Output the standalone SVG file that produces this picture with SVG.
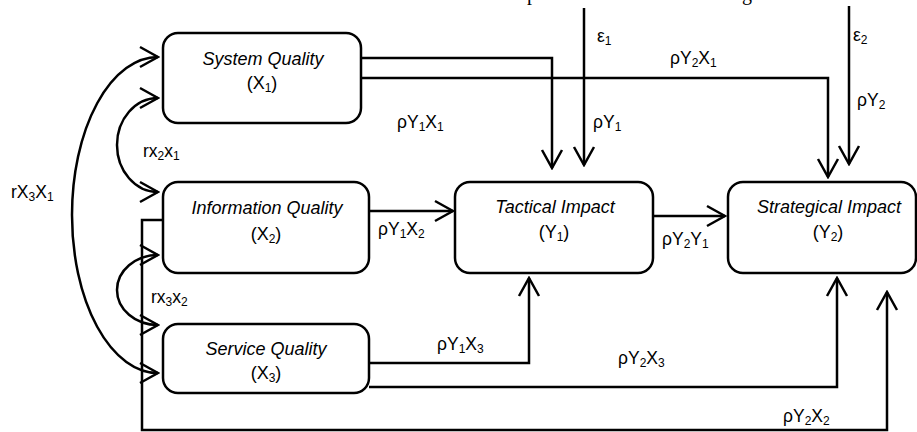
<svg xmlns="http://www.w3.org/2000/svg" width="917" height="432" viewBox="0 0 917 432">
<style>
.box{fill:#fff;stroke:#000;stroke-width:2.5}
.ln{fill:none;stroke:#000;stroke-width:2.5}
.t{font-family:"Liberation Sans",Arial,sans-serif;font-size:18px;font-style:italic;text-anchor:middle;fill:#000}
.n{font-family:"Liberation Sans",Arial,sans-serif;font-size:18px;text-anchor:middle;fill:#000}
.lb{font-family:"Liberation Sans",Arial,sans-serif;font-size:17.5px;fill:#000}
.s{font-size:12px}
.cut{font-family:"Liberation Serif","Times New Roman",serif;font-size:20px;fill:#000}
</style>
<defs>
<marker id="ah" markerUnits="userSpaceOnUse" viewBox="-22 -12 24 24" markerWidth="24" markerHeight="24" refX="0" refY="0" orient="auto">
<path d="M-18,-10 L0,0 L-18,10" fill="none" stroke="#000" stroke-width="2.5"/>
</marker>
<marker id="ahr" markerUnits="userSpaceOnUse" viewBox="-22 -12 24 24" markerWidth="24" markerHeight="24" refX="0" refY="0" orient="0">
<path d="M-18,-10 L0,0 L-18,10" fill="none" stroke="#000" stroke-width="2.5"/>
</marker>
</defs>
<text class="cut" x="527" y="0">p</text>
<text class="cut" x="742" y="0">g</text>
<g id="connectors">
<path class="ln" d="M584,8 V165" marker-end="url(#ah)"/>
<path class="ln" d="M849,6 V164" marker-end="url(#ah)"/>
<path class="ln" d="M361,58 H552 V168" marker-end="url(#ah)"/>
<path class="ln" d="M361,78 H828 V177" marker-end="url(#ah)"/>
<path class="ln" d="M369,211 H453" marker-end="url(#ah)"/>
<path class="ln" d="M653,216 H725" marker-end="url(#ah)"/>
<path class="ln" d="M369,363 H529 V278" marker-end="url(#ah)"/>
<path class="ln" d="M369,387 H837 V278" marker-end="url(#ah)"/>
<path class="ln" d="M163,220 H142 V430 H887 V292" marker-end="url(#ah)"/>
<path class="ln" d="M158,57 A86 158 0 0 0 158,373" marker-start="url(#ahr)" marker-end="url(#ahr)"/>
<path class="ln" d="M158,98 A41 47 0 0 0 158,192" marker-start="url(#ahr)" marker-end="url(#ahr)"/>
<path class="ln" d="M158,255 A41 35 0 0 0 158,325" marker-start="url(#ahr)" marker-end="url(#ahr)"/>
<text class="lb" x="597" y="42">ε<tspan class="s" dy="3">1</tspan></text>
<text class="lb" x="853" y="41">ε<tspan class="s" dy="3">2</tspan></text>
<text class="lb" x="670" y="64">ρY<tspan class="s" dy="3">2</tspan><tspan dy="-3">X</tspan><tspan class="s" dy="3">1</tspan></text>
<text class="lb" x="593" y="128">ρY<tspan class="s" dy="3">1</tspan></text>
<text class="lb" x="857" y="106">ρY<tspan class="s" dy="3">2</tspan></text>
<text class="lb" x="397" y="128">ρY<tspan class="s" dy="3">1</tspan><tspan dy="-3">X</tspan><tspan class="s" dy="3">1</tspan></text>
<text class="lb" x="143" y="157">rx<tspan class="s" dy="3">2</tspan><tspan dy="-3">x</tspan><tspan class="s" dy="3">1</tspan></text>
<text class="lb" x="11" y="198">rX<tspan class="s" dy="3">3</tspan><tspan dy="-3">X</tspan><tspan class="s" dy="3">1</tspan></text>
<text class="lb" x="378" y="235">ρY<tspan class="s" dy="3">1</tspan><tspan dy="-3">X</tspan><tspan class="s" dy="3">2</tspan></text>
<text class="lb" x="662" y="245">ρY<tspan class="s" dy="3">2</tspan><tspan dy="-3">Y</tspan><tspan class="s" dy="3">1</tspan></text>
<text class="lb" x="151" y="303">rx<tspan class="s" dy="3">3</tspan><tspan dy="-3">x</tspan><tspan class="s" dy="3">2</tspan></text>
<text class="lb" x="437" y="350">ρY<tspan class="s" dy="3">1</tspan><tspan dy="-3">X</tspan><tspan class="s" dy="3">3</tspan></text>
<text class="lb" x="618" y="364">ρY<tspan class="s" dy="3">2</tspan><tspan dy="-3">X</tspan><tspan class="s" dy="3">3</tspan></text>
<text class="lb" x="783" y="422">ρY<tspan class="s" dy="3">2</tspan><tspan dy="-3">X</tspan><tspan class="s" dy="3">2</tspan></text>
</g>
<g id="x1">
<rect class="box" x="163" y="33" width="198" height="90" rx="15"/>
<text class="t" x="263" y="65">System Quality</text>
<text class="n" x="262" y="89">(X<tspan class="s" dy="3">1</tspan><tspan dy="-3">)</tspan></text>
</g>
<g id="x2">
<rect class="box" x="163" y="182" width="206" height="91" rx="15"/>
<text class="t" x="267" y="214">Information Quality</text>
<text class="n" x="266" y="240">(X<tspan class="s" dy="3">2</tspan><tspan dy="-3">)</tspan></text>
</g>
<g id="x3">
<rect class="box" x="163" y="324" width="206" height="69" rx="15"/>
<text class="t" x="266" y="355">Service Quality</text>
<text class="n" x="266" y="379">(X<tspan class="s" dy="3">3</tspan><tspan dy="-3">)</tspan></text>
</g>
<g id="y1">
<rect class="box" x="455" y="182" width="198" height="91" rx="15"/>
<text class="t" x="555" y="213">Tactical Impact</text>
<text class="n" x="554" y="238">(Y<tspan class="s" dy="3">1</tspan><tspan dy="-3">)</tspan></text>
</g>
<g id="y2">
<rect class="box" x="728" y="182" width="188" height="91" rx="15"/>
<text class="t" x="829" y="213">Strategical Impact</text>
<text class="n" x="828" y="238">(Y<tspan class="s" dy="3">2</tspan><tspan dy="-3">)</tspan></text>
</g>
</svg>
